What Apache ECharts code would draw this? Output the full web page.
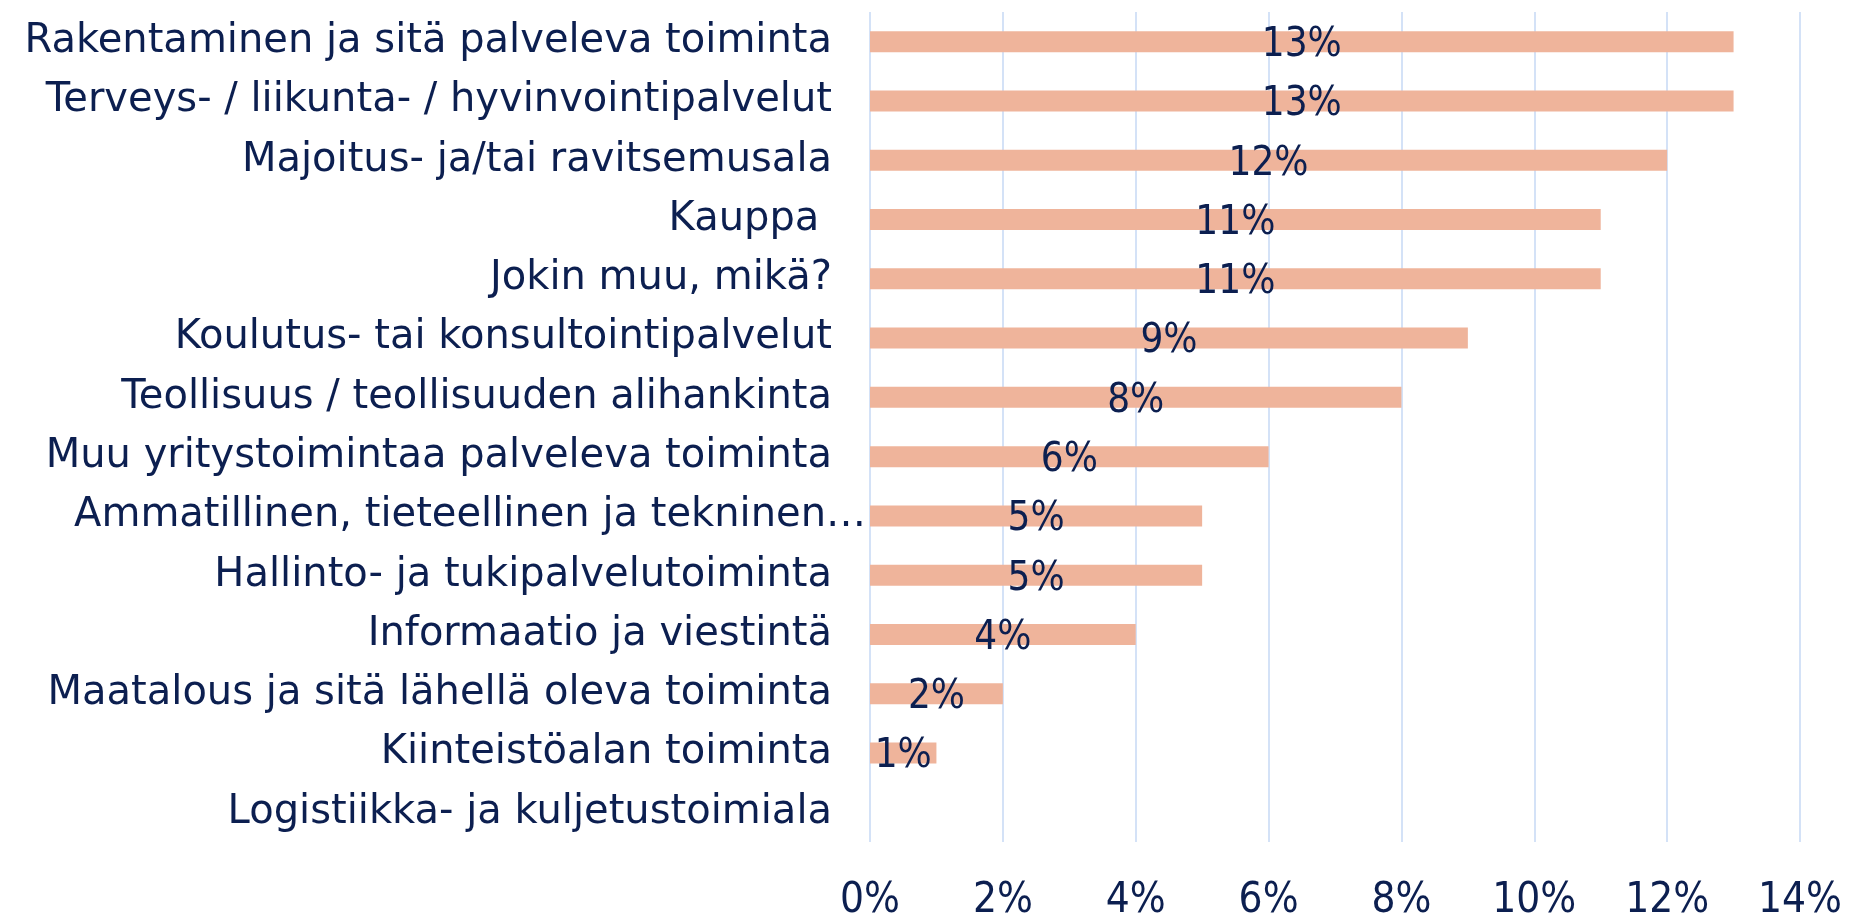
<!DOCTYPE html>
<html>
<head>
<meta charset="utf-8">
<script src="https://cdn.jsdelivr.net/npm/echarts@6/dist/echarts.min.js"></script>
<style>
  html, body { margin: 0; padding: 0; background: #fff; }
  #chart { width: 1855px; height: 922px; }
</style>
</head>
<body>
<div id="chart"></div>
<script>
// toimialat, ylhäältä alas
const categories = [
  "Rakentaminen ja sitä palveleva toiminta",
  "Terveys- / liikunta- / hyvinvointipalvelut",
  "Majoitus- ja/tai ravitsemusala",
  "Kauppa ",
  "Jokin muu, mikä?",
  "Koulutus- tai konsultointipalvelut",
  "Teollisuus / teollisuuden alihankinta",
  "Muu yritystoimintaa palveleva toiminta",
  "Ammatillinen, tieteellinen ja tekninen…",
  "Hallinto- ja tukipalvelutoiminta",
  "Informaatio ja viestintä",
  "Maatalous ja sitä lähellä oleva toiminta",
  "Kiinteistöalan toiminta",
  "Logistiikka- ja kuljetustoimiala"
]
const values = [13, 13, 12, 11, 11, 9, 8, 6, 5, 5, 4, 2, 1, 0]
const xTicks = { min: 0, max: 14, interval: 2 }

const textColor = "#0c1f50"
const font = "'DejaVu Sans Condensed', 'DejaVu Sans', sans-serif"

let myChart = echarts.init(document.getElementById("chart"))
myChart.setOption({
  animation: false,
  grid: {
    left: 870,
    right: 55,
    top: 12,
    bottom: 75,
    containLabel: false,
  },
  xAxis: {
    type: "value",
    min: xTicks.min,
    max: xTicks.max,
    interval: xTicks.interval,
    axisLine: { show: false },
    axisTick: { show: false },
    splitLine: {
      lineStyle: { color: "#c6d9f5", width: 1.5 },
    },
    axisLabel: {
      formatter: "{value}%",
      color: textColor,
      fontFamily: font,
      fontSize: 42,
      margin: 38,
    },
  },
  yAxis: {
    type: "category",
    inverse: true,
    // the truncated label sticks out a bit further to the right
    data: categories.map((c) =>
      c.endsWith("…") ? { value: c, textStyle: { padding: [0, -34, 0, 0] } } : c
    ),
    axisLine: { show: false },
    axisTick: { show: false },
    axisLabel: {
      color: textColor,
      fontFamily: "'DejaVu Sans', sans-serif",
      fontSize: 40,
      margin: 38,
    },
  },
  series: [
    {
      type: "bar",
      data: values,
      barWidth: 21,
      itemStyle: { color: "#efb49b" },
      label: {
        show: true,
        position: "inside",
        offset: [0, 4],
        color: textColor,
        fontFamily: font,
        fontSize: 40,
        formatter: (p) => (p.value ? p.value + "%" : ""),
      },
    },
  ],
})
</script>
</body>
</html>
